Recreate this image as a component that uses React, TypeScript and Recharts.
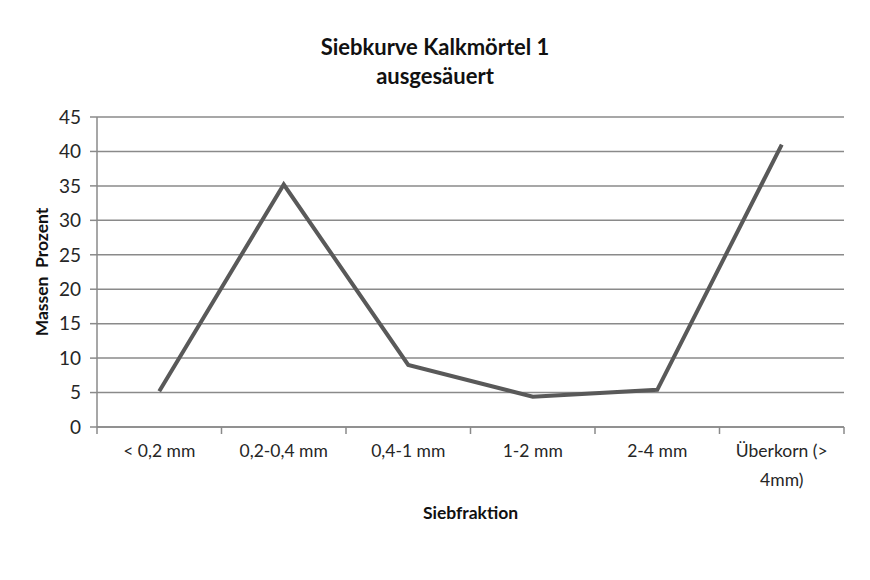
import React from "react";
import { LineChart, Line, XAxis, YAxis, CartesianGrid, Text } from "recharts";

// --- Data ---
const fractions = ["< 0,2 mm", "0,2-0,4 mm", "0,4-1 mm", "1-2 mm", "2-4 mm", "Überkorn (> 4mm)"];
const massPercent = [5.2, 35.2, 9.0, 4.4, 5.4, 41.0];
const yTicks = [0, 5, 10, 15, 20, 25, 30, 35, 40, 45];

const data = fractions.map((f, i) => ({ fraction: f, value: massPercent[i] }));

const FONT = "Lato, 'Open Sans', sans-serif";
const GRID = "#8a8a8a";
const BAND = (844 - 97) / fractions.length;

// category label + Excel-style tick marks on the band boundaries
const CategoryTick = (props: any) => {
  const { x, payload, index } = props;
  const last = index === fractions.length - 1;
  return (
    <g>
      <line x1={x - BAND / 2} x2={x - BAND / 2} y1={427} y2={434} stroke={GRID} strokeWidth={1.5} />
      {last && <line x1={x + BAND / 2} x2={x + BAND / 2} y1={427} y2={434} stroke={GRID} strokeWidth={1.5} />}
      <Text x={x} y={445} width={118} textAnchor="middle" verticalAnchor="start" lineHeight={29}
        style={{ fontFamily: FONT, fontSize: 17.5, fill: "#262626" }}>
        {payload.value}
      </Text>
    </g>
  );
};

export default function App() {
  return (
    <div style={{ position: "absolute", left: 0, top: 0, width: 870, height: 580, background: "#fff" }}>
      <div style={{ position: "absolute", left: 0, top: 32, width: 870, textAlign: "center", fontFamily: FONT,
        fontWeight: 700, fontSize: 22, lineHeight: "29px", color: "#111" }}>
        Siebkurve Kalkmörtel 1<br />ausgesäuert
      </div>
      <LineChart width={870} height={580} data={data} margin={{ top: 117, right: 26, left: 37, bottom: 58 }}>
        <CartesianGrid vertical={false} stroke={GRID} strokeWidth={1.5} />
        <XAxis dataKey="fraction" height={95} interval={0} tickLine={false} axisLine={{ stroke: GRID, strokeWidth: 1.5 }}
          padding={{ left: BAND / 2, right: BAND / 2 }}
          tick={<CategoryTick />}
          label={{ value: "Siebfraktion", position: "insideBottom", offset: 3,
            style: { fontFamily: FONT, fontWeight: 700, fontSize: 17.5, fill: "#111" } }} />
        <YAxis width={60} domain={[0, 45]} ticks={yTicks} interval={0} axisLine={{ stroke: GRID, strokeWidth: 1.5 }}
          tickLine={{ stroke: GRID, strokeWidth: 1.5 }} tickSize={7} tickMargin={9}
          tick={{ fontFamily: FONT, fontSize: 19, fill: "#262626" }}
          label={{ value: "Massen\u00a0\u00a0Prozent", angle: -90, position: "insideLeft", offset: 5,
            style: { fontFamily: FONT, fontWeight: 700, fontSize: 17.5, fill: "#111", textAnchor: "middle" } }} />
        <Line type="linear" dataKey="value" stroke="#595959" strokeWidth={4} dot={false} isAnimationActive={false} />
      </LineChart>
    </div>
  );
}
